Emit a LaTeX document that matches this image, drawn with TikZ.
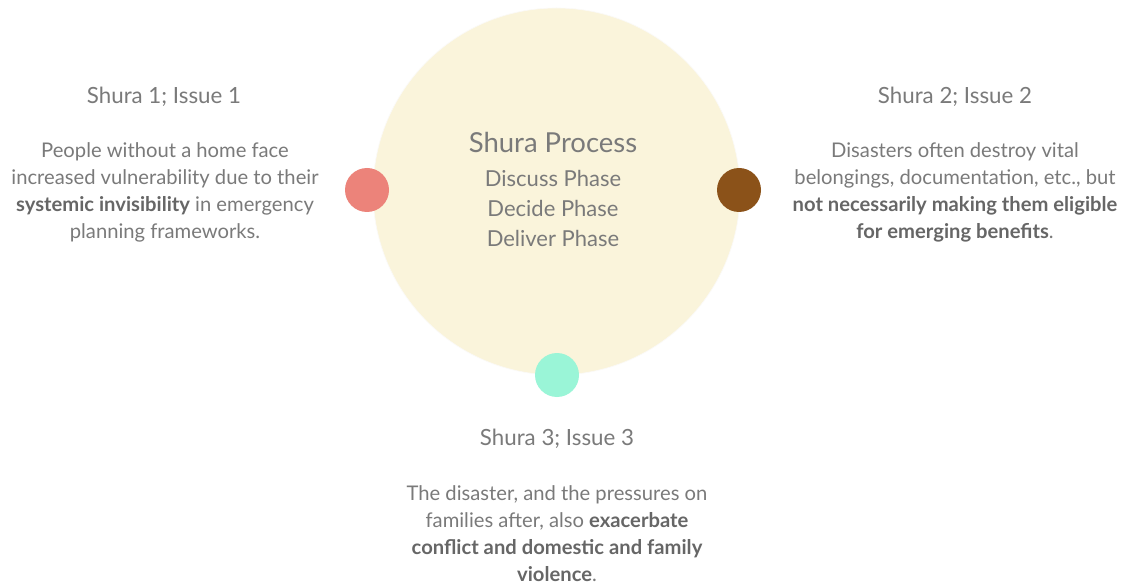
\documentclass[tikz,border=0pt]{standalone}
\usepackage{fontspec}
\setmainfont{Lato}
\definecolor{txt}{HTML}{7A7A7A}
\definecolor{txtb}{HTML}{666666}
\definecolor{bigfill}{HTML}{FAF4DB}
\definecolor{redc}{HTML}{EC837A}
\definecolor{brownc}{HTML}{8B5219}
\definecolor{tealc}{HTML}{9AF5D7}
\tikzset{
  titletext/.style={text=txt, font=\fontsize{22.3}{26}\selectfont, inner sep=0pt},
  bodytext/.style={text=txt, font=\fontsize{20.2}{27}\selectfont, align=center, inner sep=0pt},
  dot/.style={circle, minimum size=44pt, inner sep=0pt},
}
\newcommand{\bt}[1]{{\bfseries\color{txtb}#1}}
\begin{document}
\begin{tikzpicture}[x=1pt,y=-1pt]
\useasboundingbox (0,0) rectangle (1127,585);
\fill[white] (0,0) rectangle (1127,585);
\node[circle, fill=bigfill, draw=bigfill!85!black!10, line width=0.6pt, minimum size=367pt, inner sep=0pt] (big) at (556.5,191.5) {};
\node[text=txt, font=\fontsize{27.5}{30}\selectfont, inner sep=0pt] (proc) at (553,142) {Shura Process};
\node[text=txt, font=\fontsize{22}{30}\selectfont, align=center, inner sep=0pt, anchor=center] (phases) at (553,208) {Discuss Phase\\Decide Phase\\Deliver Phase};
\node[dot, fill=redc] (d1) at (367,190) {};
\node[dot, fill=brownc] (d2) at (739,190) {};
\node[dot, fill=tealc] (d3) at (557,375) {};
\node[titletext] (t1) at (164,97) {Shura 1; Issue 1};
\node[bodytext] (b1) at (165,192) {People without a home face\\increased vulnerability due to their\\\bt{systemic invisibility} in emergency\\planning frameworks.};
\node[titletext] (t2) at (955,97) {Shura 2; Issue 2};
\node[bodytext] (b2) at (955,192) {Disasters often destroy vital\\belongings, documentation, etc., but\\\bt{not necessarily making them eligible}\\\bt{for emerging benefits}.};
\node[titletext] (t3) at (557,439) {Shura 3; Issue 3};
\node[bodytext] (b3) at (557,534) {The disaster, and the pressures on\\families after, also \bt{exacerbate}\\\bt{conflict and domestic and family}\\\bt{violence}.};
\end{tikzpicture}
\end{document}
